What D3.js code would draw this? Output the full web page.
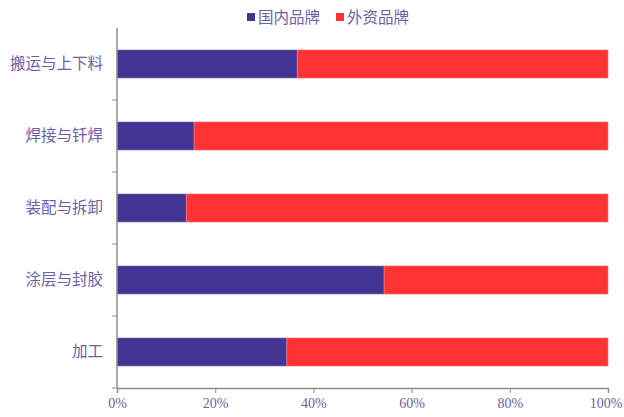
<!DOCTYPE html>
<html><head><meta charset="utf-8">
<script src="https://cdn.jsdelivr.net/npm/d3@7"></script>
<style>body{margin:0;background:#fff}</style>
</head><body>
<svg id="c" width="624" height="417"></svg>
<script>
const categories = ["搬运与上下料","焊接与钎焊","装配与拆卸","涂层与封胶","加工"];
const domestic = [0.367, 0.157, 0.141, 0.544, 0.346];
const foreign = domestic.map(v => 1 - v);
const seriesNames = ["国内品牌","外资品牌"];
const colors = ["#433594","#FF3333"];
const ticks = [0,0.2,0.4,0.6,0.8,1];

const svg = d3.select("#c");
const m = {l:117, r:16, t:28, b:29};
const W = 624, H = 417;
const x = d3.scaleLinear().domain([0,1]).range([m.l, W-m.r]);
const y = d3.scaleBand().domain(categories).range([m.t, H-m.b]).paddingInner(0.61).paddingOuter(0.305);
const textColor = "#6A5FAA";
const axisColor = "#8c8c8c";
const cjk = "'Noto Sans CJK SC', sans-serif";

const data = categories.map((c,i)=>({c, d: domestic[i], f: foreign[i]}));
const g = svg.append("g");
g.selectAll("rect.d").data(data).join("rect")
  .attr("x", x(0)).attr("y", d=>y(d.c)).attr("width", d=>x(d.d)-x(0)).attr("height", y.bandwidth())
  .attr("fill", colors[0]).attr("stroke","#8f86c4").attr("stroke-width",0.6);
g.selectAll("rect.f").data(data).join("rect")
  .attr("x", d=>x(d.d)).attr("y", d=>y(d.c)).attr("width", d=>x(1)-x(d.d)).attr("height", y.bandwidth())
  .attr("fill", colors[1]).attr("stroke","#ff8080").attr("stroke-width",0.6);

// x axis
const fmt = d3.format(".0%");
const xa = svg.append("g").attr("transform",`translate(0,${H-m.b})`)
  .call(d3.axisBottom(x).tickValues(ticks).tickFormat(fmt).tickSizeOuter(0).tickSize(5));
xa.select(".domain").attr("stroke",axisColor).attr("stroke-width",1.5);
xa.selectAll(".tick line").attr("stroke",axisColor);
xa.selectAll(".tick text").attr("fill",textColor).attr("font-family","'Liberation Serif', serif").attr("font-size",14)
  .attr("dy","0.85em");
xa.selectAll(".tick").filter(d => d === 1).select("text")
  .attr("text-anchor","end").attr("x", (W - 2) - x(1));

// y axis
const step = y.step();
const bounds = d3.range(categories.length+1).map(i => m.t + i*step);
svg.append("line").attr("x1",m.l).attr("x2",m.l).attr("y1",m.t).attr("y2",H-m.b).attr("stroke",axisColor).attr("stroke-width",1.5);
svg.selectAll("line.yt").data(bounds.slice(1)).join("line")
  .attr("x1",m.l-5).attr("x2",m.l).attr("y1",d=>d).attr("y2",d=>d).attr("stroke",axisColor);
svg.selectAll("text.yl").data(categories).join("text")
  .attr("x", m.l-14).attr("y", d=>y(d)+y.bandwidth()/2).attr("dy","0.35em")
  .attr("text-anchor","end").attr("fill",textColor).attr("font-family",cjk).attr("font-size",15.5).text(d=>d);

// legend
const lg = svg.append("g");
const lx = [247, 336];
seriesNames.forEach((n,i)=>{
  lg.append("rect").attr("x",lx[i]).attr("y",13).attr("width",8).attr("height",8).attr("fill",colors[i]);
  lg.append("text").attr("x",lx[i]+11).attr("y",17).attr("dy","0.36em").attr("fill",textColor)
    .attr("font-family",cjk).attr("font-size",15.5).text(n);
});
</script>
</body></html>
